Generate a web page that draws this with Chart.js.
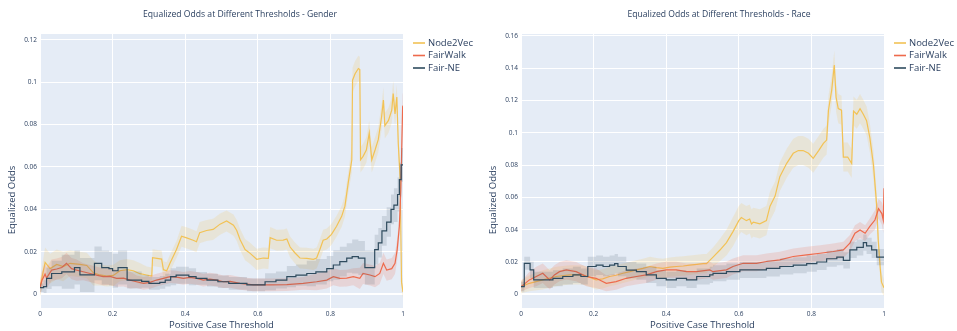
<!DOCTYPE html>
<html>
<head>
<meta charset="utf-8">
<script src="https://cdn.jsdelivr.net/npm/chart.js@4.4.1/dist/chart.umd.min.js"></script>
<style>
  html, body { margin: 0; padding: 0; background: #fff; width: 957px; height: 331px; overflow: hidden; }
  canvas { position: absolute; top: 0; }
  #gender { left: 0; }
  #race { left: 481px; }
</style>
</head>
<body>
<canvas id="gender" width="476" height="331"></canvas>
<canvas id="race" width="476" height="331"></canvas>
<script>
// Each point: [threshold, equalized odds, half-width of the shaded band]
const seriesNames = ['Node2Vec', 'FairWalk', 'Fair-NE'];

const xTicks = [0, 0.2, 0.4, 0.6, 0.8, 1];
const xTickLabels = ['0', '0.2', '0.4', '0.6', '0.8', '1'];

const genderYTicks = [0, 0.02, 0.04, 0.06, 0.08, 0.1, 0.12];
const genderYTickLabels = ['0', '0.02', '0.04', '0.06', '0.08', '0.1', '0.12'];
const raceYTicks = [0, 0.02, 0.04, 0.06, 0.08, 0.1, 0.12, 0.14, 0.16];
const raceYTickLabels = ['0', '0.02', '0.04', '0.06', '0.08', '0.1', '0.12', '0.14', '0.16'];

const genderNode2Vec = [
  [0, 0.003, 0.004], [0.014, 0.015, 0.007], [0.028, 0.012, 0.007], [0.046, 0.014, 0.007],
  [0.064, 0.013, 0.007], [0.083, 0.0145, 0.006], [0.11, 0.014, 0.006], [0.129, 0.0135, 0.006],
  [0.147, 0.010, 0.006], [0.165, 0.009, 0.005], [0.184, 0.0085, 0.005], [0.202, 0.0088, 0.005],
  [0.22, 0.011, 0.005], [0.239, 0.0115, 0.005], [0.257, 0.011, 0.005], [0.275, 0.0096, 0.005],
  [0.294, 0.009, 0.004], [0.308, 0.0085, 0.004], [0.31, 0.0172, 0.004], [0.335, 0.0165, 0.004],
  [0.34, 0.0115, 0.004], [0.349, 0.011, 0.004], [0.358, 0.0145, 0.004], [0.376, 0.021, 0.004],
  [0.39, 0.0273, 0.005], [0.404, 0.0265, 0.005], [0.422, 0.0254, 0.005], [0.431, 0.0247, 0.005],
  [0.44, 0.029, 0.005], [0.459, 0.030, 0.005], [0.477, 0.0305, 0.005], [0.496, 0.033, 0.005],
  [0.514, 0.0345, 0.005], [0.533, 0.0325, 0.005], [0.542, 0.030, 0.005], [0.551, 0.0258, 0.005],
  [0.565, 0.021, 0.005], [0.579, 0.0192, 0.005], [0.597, 0.0164, 0.005], [0.615, 0.017, 0.005],
  [0.629, 0.0168, 0.005], [0.634, 0.0266, 0.005], [0.652, 0.0254, 0.005], [0.67, 0.0255, 0.005],
  [0.68, 0.026, 0.005], [0.689, 0.0222, 0.005], [0.702, 0.0195, 0.005], [0.716, 0.017, 0.005],
  [0.735, 0.0168, 0.005], [0.753, 0.0164, 0.005], [0.762, 0.017, 0.005], [0.771, 0.021, 0.005],
  [0.78, 0.0254, 0.005], [0.79, 0.026, 0.005], [0.803, 0.0282, 0.005], [0.817, 0.032, 0.005],
  [0.831, 0.0367, 0.005], [0.84, 0.0415, 0.005], [0.849, 0.0524, 0.005], [0.859, 0.0634, 0.006],
  [0.861, 0.101, 0.006], [0.868, 0.104, 0.006], [0.877, 0.1065, 0.006], [0.881, 0.106, 0.006],
  [0.883, 0.0634, 0.006], [0.89, 0.065, 0.006], [0.899, 0.068, 0.006], [0.907, 0.076, 0.006],
  [0.914, 0.0634, 0.006], [0.923, 0.068, 0.006], [0.932, 0.073, 0.006], [0.941, 0.0837, 0.006],
  [0.946, 0.0916, 0.006], [0.95, 0.0795, 0.006], [0.96, 0.082, 0.006], [0.969, 0.0868, 0.006],
  [0.973, 0.0947, 0.006], [0.978, 0.085, 0.006], [0.983, 0.093, 0.006], [0.987, 0.071, 0.006],
  [0.992, 0.055, 0.006], [0.996, 0.0055, 0.004], [1.0, 0.001, 0.003]
];

const genderFairWalk = [
  [0, 0.003, 0.003], [0.0055, 0.0065, 0.004], [0.014, 0.0094, 0.005], [0.018, 0.0075, 0.005],
  [0.032, 0.0113, 0.005], [0.046, 0.0118, 0.005], [0.06, 0.0125, 0.005], [0.073, 0.0145, 0.005],
  [0.087, 0.012, 0.005], [0.101, 0.0113, 0.005], [0.119, 0.0105, 0.004], [0.138, 0.0097, 0.004],
  [0.156, 0.0089, 0.004], [0.174, 0.0082, 0.004], [0.193, 0.0083, 0.004], [0.211, 0.0074, 0.004],
  [0.23, 0.0075, 0.004], [0.248, 0.0066, 0.004], [0.266, 0.0058, 0.003], [0.285, 0.005, 0.003],
  [0.303, 0.0055, 0.003], [0.321, 0.0066, 0.003], [0.34, 0.0074, 0.003], [0.358, 0.0082, 0.003],
  [0.376, 0.008, 0.003], [0.395, 0.0074, 0.003], [0.413, 0.0079, 0.003], [0.432, 0.0074, 0.003],
  [0.45, 0.0066, 0.003], [0.468, 0.007, 0.003], [0.487, 0.0066, 0.003], [0.505, 0.0058, 0.003],
  [0.524, 0.006, 0.003], [0.551, 0.005, 0.003], [0.588, 0.0043, 0.003], [0.634, 0.0043, 0.003],
  [0.68, 0.0044, 0.003], [0.725, 0.005, 0.003], [0.762, 0.0058, 0.004], [0.79, 0.0066, 0.004],
  [0.808, 0.0082, 0.004], [0.826, 0.0074, 0.004], [0.845, 0.0075, 0.004], [0.863, 0.0082, 0.004],
  [0.881, 0.0074, 0.005], [0.89, 0.0097, 0.005], [0.909, 0.009, 0.005], [0.923, 0.0082, 0.005],
  [0.936, 0.0097, 0.005], [0.946, 0.0145, 0.005], [0.955, 0.0113, 0.005], [0.969, 0.012, 0.005],
  [0.978, 0.0145, 0.005], [0.984, 0.021, 0.005], [0.99, 0.032, 0.005], [0.994, 0.049, 0.006],
  [0.999, 0.0884, 0.006], [1.0, 0.089, 0.006]
];

const genderFairNE = [
  [0, 0.003, 0.002], [0.01, 0.0035, 0.003], [0.018, 0.0074, 0.005], [0.032, 0.0097, 0.006],
  [0.06, 0.0105, 0.008], [0.095, 0.0125, 0.008], [0.11, 0.009, 0.008], [0.15, 0.0145, 0.008],
  [0.17, 0.0125, 0.008], [0.19, 0.012, 0.008], [0.2, 0.011, 0.008], [0.215, 0.0125, 0.008],
  [0.24, 0.0066, 0.004], [0.28, 0.006, 0.003], [0.3, 0.005, 0.003], [0.33, 0.0055, 0.003],
  [0.345, 0.0066, 0.003], [0.36, 0.0082, 0.004], [0.375, 0.0089, 0.004], [0.41, 0.0082, 0.004],
  [0.43, 0.0074, 0.003], [0.46, 0.0066, 0.003], [0.49, 0.0058, 0.003], [0.52, 0.005, 0.003],
  [0.57, 0.0043, 0.003], [0.62, 0.0058, 0.004], [0.65, 0.0066, 0.004], [0.68, 0.0082, 0.005],
  [0.705, 0.0089, 0.005], [0.735, 0.0097, 0.006], [0.76, 0.0105, 0.006], [0.79, 0.012, 0.006],
  [0.808, 0.0137, 0.007], [0.826, 0.0153, 0.007], [0.845, 0.017, 0.007], [0.86, 0.0177, 0.008],
  [0.877, 0.017, 0.008], [0.895, 0.0125, 0.008], [0.922, 0.021, 0.007], [0.932, 0.0242, 0.007],
  [0.942, 0.0298, 0.007], [0.955, 0.034, 0.007], [0.967, 0.04, 0.007], [0.975, 0.042, 0.008],
  [0.985, 0.047, 0.008], [0.99, 0.054, 0.008], [0.995, 0.061, 0.008], [1.0, 0.061, 0.008]
];

const raceNode2Vec = [
  [0, 0.0047, 0.004], [0.023, 0.0068, 0.005], [0.06, 0.0089, 0.006], [0.097, 0.011, 0.006],
  [0.134, 0.012, 0.006], [0.17, 0.012, 0.006], [0.19, 0.0105, 0.006], [0.207, 0.0089, 0.006],
  [0.225, 0.0095, 0.006], [0.244, 0.011, 0.006], [0.262, 0.0118, 0.006], [0.281, 0.013, 0.006],
  [0.3, 0.014, 0.006], [0.318, 0.0151, 0.006], [0.336, 0.016, 0.006], [0.355, 0.0172, 0.006],
  [0.373, 0.0165, 0.006], [0.391, 0.016, 0.006], [0.41, 0.0168, 0.006], [0.428, 0.0172, 0.006],
  [0.447, 0.0175, 0.006], [0.465, 0.018, 0.006], [0.484, 0.0185, 0.006], [0.502, 0.019, 0.006],
  [0.511, 0.019, 0.006], [0.52, 0.021, 0.006], [0.529, 0.023, 0.006], [0.548, 0.0274, 0.007],
  [0.566, 0.032, 0.008], [0.584, 0.0388, 0.009], [0.6, 0.0456, 0.009], [0.607, 0.0475, 0.009],
  [0.621, 0.0456, 0.009], [0.63, 0.0466, 0.009], [0.635, 0.0436, 0.009], [0.64, 0.0446, 0.009],
  [0.658, 0.0436, 0.009], [0.676, 0.0456, 0.009], [0.686, 0.0546, 0.009], [0.7, 0.0608, 0.009],
  [0.713, 0.0728, 0.009], [0.732, 0.0811, 0.009], [0.75, 0.0873, 0.009], [0.764, 0.089, 0.009],
  [0.777, 0.089, 0.009], [0.792, 0.0873, 0.009], [0.805, 0.0842, 0.009], [0.82, 0.089, 0.009],
  [0.833, 0.0935, 0.009], [0.842, 0.0955, 0.009], [0.847, 0.114, 0.009], [0.856, 0.1265, 0.009],
  [0.863, 0.142, 0.009], [0.868, 0.122, 0.009], [0.874, 0.115, 0.009], [0.883, 0.114, 0.009],
  [0.888, 0.085, 0.009], [0.9, 0.085, 0.009], [0.911, 0.081, 0.009], [0.916, 0.1135, 0.009],
  [0.925, 0.1115, 0.009], [0.934, 0.115, 0.009], [0.943, 0.1115, 0.009], [0.952, 0.1075, 0.009],
  [0.961, 0.097, 0.009], [0.971, 0.080, 0.009], [0.98, 0.0546, 0.008], [0.984, 0.034, 0.008],
  [0.989, 0.018, 0.007], [0.993, 0.0075, 0.006], [1.0, 0.004, 0.005]
];

const raceFairWalk = [
  [0, 0.0047, 0.003], [0.023, 0.0089, 0.005], [0.042, 0.011, 0.006], [0.06, 0.013, 0.006],
  [0.079, 0.0089, 0.006], [0.092, 0.012, 0.006], [0.106, 0.014, 0.006], [0.125, 0.0151, 0.006],
  [0.14, 0.0145, 0.006], [0.152, 0.014, 0.006], [0.166, 0.0125, 0.006], [0.18, 0.011, 0.006],
  [0.207, 0.0099, 0.006], [0.235, 0.0068, 0.005], [0.262, 0.0078, 0.005], [0.29, 0.0099, 0.005],
  [0.318, 0.011, 0.005], [0.345, 0.012, 0.005], [0.373, 0.014, 0.005], [0.4, 0.0151, 0.005],
  [0.428, 0.0151, 0.005], [0.456, 0.014, 0.005], [0.484, 0.014, 0.005], [0.52, 0.0151, 0.005],
  [0.529, 0.014, 0.005], [0.566, 0.0151, 0.005], [0.584, 0.0172, 0.005], [0.612, 0.0192, 0.005],
  [0.649, 0.0192, 0.005], [0.676, 0.0203, 0.005], [0.713, 0.0213, 0.005], [0.75, 0.0234, 0.005],
  [0.787, 0.0244, 0.005], [0.824, 0.0254, 0.005], [0.86, 0.0265, 0.005], [0.888, 0.0275, 0.005],
  [0.906, 0.0317, 0.005], [0.92, 0.0378, 0.005], [0.934, 0.0398, 0.005], [0.948, 0.0378, 0.005],
  [0.961, 0.042, 0.005], [0.975, 0.046, 0.006], [0.985, 0.053, 0.006], [0.994, 0.05, 0.007],
  [0.998, 0.046, 0.008], [1.0, 0.0657, 0.008]
];

const raceFairNE = [
  [0, 0.0047, 0.003], [0.009, 0.0192, 0.004], [0.025, 0.0151, 0.005], [0.035, 0.0089, 0.005],
  [0.06, 0.0089, 0.005], [0.088, 0.0099, 0.005], [0.115, 0.011, 0.005], [0.143, 0.012, 0.005],
  [0.165, 0.011, 0.005], [0.184, 0.0172, 0.006], [0.207, 0.018, 0.006], [0.226, 0.0172, 0.006],
  [0.244, 0.018, 0.006], [0.258, 0.019, 0.006], [0.267, 0.0172, 0.006], [0.29, 0.015, 0.005],
  [0.318, 0.014, 0.005], [0.345, 0.012, 0.005], [0.373, 0.0099, 0.005], [0.4, 0.0089, 0.005],
  [0.428, 0.0099, 0.005], [0.456, 0.0089, 0.005], [0.484, 0.011, 0.005], [0.52, 0.012, 0.005],
  [0.529, 0.013, 0.005], [0.566, 0.014, 0.005], [0.603, 0.0151, 0.005], [0.64, 0.0151, 0.005],
  [0.676, 0.016, 0.005], [0.713, 0.0172, 0.005], [0.75, 0.018, 0.005], [0.787, 0.019, 0.005],
  [0.815, 0.020, 0.005], [0.842, 0.022, 0.005], [0.87, 0.023, 0.005], [0.888, 0.021, 0.005],
  [0.906, 0.0275, 0.005], [0.925, 0.029, 0.005], [0.943, 0.032, 0.005], [0.952, 0.030, 0.005],
  [0.966, 0.0275, 0.005], [0.98, 0.023, 0.005], [1.0, 0.023, 0.005]
];

const lineColors = ['#F2C255', '#EE6A4C', '#2F4B5E'];
const bandColors = ['rgba(242,194,85,0.18)', 'rgba(238,106,76,0.18)', 'rgba(70,90,105,0.16)'];
const steppedSeries = [false, false, true];

const ink = '#2a3f5f';
const font = '"Open Sans", "Liberation Sans", sans-serif';

// Shaded band (lower edge + upper edge filled to it) followed by the centre line.
function seriesDatasets(points, i) {
  const order = (3 - i) * 2;
  const stepped = steppedSeries[i];
  return [
    { data: points.map(p => ({ x: p[0], y: p[1] - p[2] })), borderWidth: 0, pointRadius: 0,
      fill: false, stepped, order: order + 1 },
    { data: points.map(p => ({ x: p[0], y: p[1] + p[2] })), borderWidth: 0, pointRadius: 0,
      fill: '-1', backgroundColor: bandColors[i], stepped, order: order + 1 },
    { data: points.map(p => ({ x: p[0], y: p[1] })), borderColor: lineColors[i], borderWidth: 1.2,
      pointRadius: 0, fill: false, stepped, tension: 0, order }
  ];
}

// Plot background, titles and legend.
const framePlugin = {
  id: 'frame',
  beforeDraw(chart) {
    const { ctx, chartArea: a } = chart;
    ctx.save();
    ctx.fillStyle = '#E5ECF6';
    ctx.fillRect(a.left, a.top, a.right - a.left, a.bottom - a.top);
    ctx.restore();
  },
  afterDraw(chart, args, opts) {
    const { ctx, chartArea: a } = chart;
    ctx.save();
    ctx.fillStyle = ink;
    ctx.textBaseline = 'middle';
    ctx.textAlign = 'center';
    ctx.font = '8.6px ' + font;
    ctx.fillText(opts.title, opts.titleX, 15);
    ctx.font = '9.5px ' + font;
    ctx.fillText('Positive Case Threshold', (a.left + a.right) / 2, 325);
    ctx.save();
    ctx.translate(12, 200);
    ctx.rotate(-Math.PI / 2);
    ctx.fillText('Equalized Odds', 0, 0);
    ctx.restore();
    // legend
    ctx.textAlign = 'left';
    ctx.font = '9.5px ' + font;
    seriesNames.forEach((name, i) => {
      const y = 43 + i * 12.5;
      ctx.strokeStyle = lineColors[i];
      ctx.lineWidth = 1.6;
      ctx.beginPath();
      ctx.moveTo(413, y);
      ctx.lineTo(425, y);
      ctx.stroke();
      ctx.fillStyle = ink;
      ctx.fillText(name, 428, y);
    });
    ctx.restore();
  }
};

function makeChart(id, title, titleX, yMin, yMax, yTicks, yTickLabels, series) {
  const datasets = [];
  series.forEach((pts, i) => datasets.push(...seriesDatasets(pts, i)));
  return new Chart(document.getElementById(id), {
    type: 'line',
    data: { datasets },
    plugins: [framePlugin],
    options: {
      responsive: false,
      animation: false,
      devicePixelRatio: 1,
      layout: { padding: { top: 34, right: 73, left: 0, bottom: 0 } },
      plugins: {
        legend: { display: false },
        tooltip: { enabled: false },
        frame: { title, titleX }
      },
      scales: {
        x: {
          type: 'linear', min: 0, max: 1,
          afterBuildTicks: s => { s.ticks = xTicks.map(v => ({ value: v })); },
          afterFit: s => { s.height = 23; },
          ticks: { callback: (v, idx) => xTickLabels[idx], color: ink, font: { size: 6.5, family: font },
                   padding: 2, maxRotation: 0, autoSkip: false },
          grid: { color: '#ffffff', lineWidth: c => (c.tick && c.tick.value === 0 ? 2 : 1), drawTicks: false },
          border: { display: false }
        },
        y: {
          type: 'linear', min: yMin, max: yMax,
          afterBuildTicks: s => { s.ticks = yTicks.map(v => ({ value: v })); },
          afterFit: s => { s.width = 40; },
          ticks: { callback: (v, idx) => yTickLabels[idx], color: ink, font: { size: 6.5, family: font },
                   padding: 3, autoSkip: false },
          grid: { color: '#ffffff', lineWidth: c => (c.tick && c.tick.value === 0 ? 2 : 1), drawTicks: false },
          border: { display: false }
        }
      }
    }
  });
}

makeChart('gender', 'Equalized Odds at Different Thresholds - Gender', 240, -0.0066, 0.1228,
  genderYTicks, genderYTickLabels, [genderNode2Vec, genderFairWalk, genderFairNE]);
makeChart('race', 'Equalized Odds at Different Thresholds - Race', 238, -0.0085, 0.1612,
  raceYTicks, raceYTickLabels, [raceNode2Vec, raceFairWalk, raceFairNE]);
</script>
</body>
</html>
